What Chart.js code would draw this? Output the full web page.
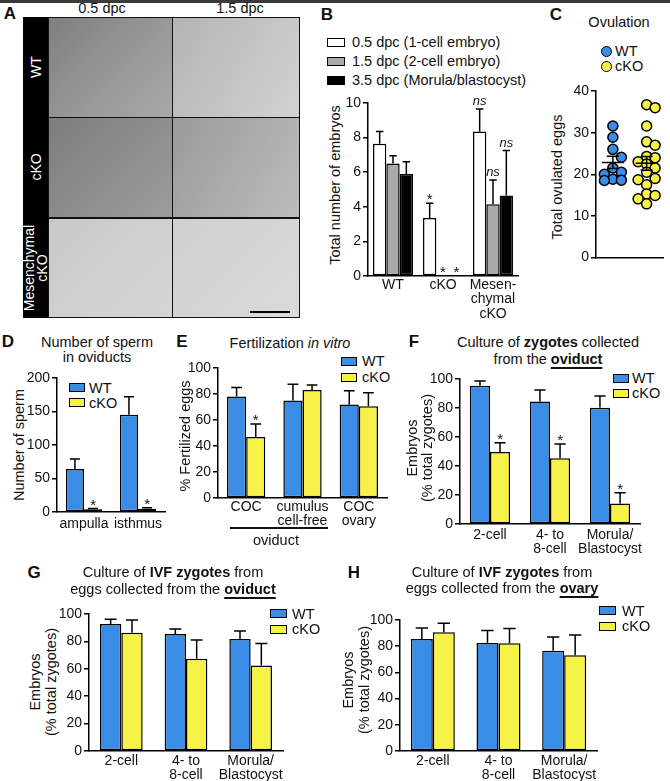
<!DOCTYPE html>
<html><head><meta charset="utf-8">
<script src="https://cdn.jsdelivr.net/npm/chart.js@4.4.1/dist/chart.umd.min.js"></script>
<style>
html,body{margin:0;padding:0;background:#fff;}
body{width:670px;height:781px;position:relative;overflow:hidden;font-family:"Liberation Sans",Arial,Helvetica,sans-serif;color:#111;}
.t{position:absolute;white-space:nowrap;font-size:14.5px;line-height:16px;transform:translate(-50%,-50%);text-align:center;}
.tl{position:absolute;white-space:nowrap;font-size:14.5px;line-height:16px;transform:translate(0,-50%);}
.pl{position:absolute;font-weight:bold;font-size:17px;line-height:18px;transform:translate(-50%,-50%);}
.yt{position:absolute;white-space:nowrap;font-size:14.5px;line-height:16px;transform:translate(-50%,-50%) rotate(-90deg);text-align:center;}
.sw{position:absolute;box-sizing:border-box;border:1.5px solid #000;}
.img{position:absolute;box-sizing:border-box;}
u{text-decoration:underline;text-underline-offset:3px;text-decoration-thickness:1.5px;}
</style></head><body>
<script>
// ---------------- DATA ----------------
// Panel B
const B_categories = ['WT', 'cKO', ['Mesen-', 'chymal', 'cKO']];
const B_series = ['0.5 dpc (1-cell embryo)', '1.5 dpc (2-cell embryo)', '3.5 dpc (Morula/blastocyst)'];
const B_d05 = [7.65, 3.35, 8.35];
const B_d05_err = [0.7, 0.85, 1.3];
const B_d05_sig = ['', '*', 'ns'];
const B_d15 = [6.5, 0, 4.15];
const B_d15_err = [0.45, 0, 1.4];
const B_d15_sig = ['', '*', 'ns'];
const B_d35 = [5.9, 0, 4.65];
const B_d35_err = [0.7, 0, 2.6];
const B_d35_sig = ['', '*', 'ns'];
const B_yTicks = [0, 2, 4, 6, 8, 10];

// Panel C
const C_groups = ['WT', 'cKO'];
const C_wt = [31.6, 28.9, 26, 24.1, 21.5, 20.5, 20, 18.8, 18.6, 18.5];
const C_cko = [36.7, 36, 31.6, 27.8, 27, 24.3, 24, 23, 22.5, 21.5, 20.5, 19, 18.7, 17.5, 15.3, 14.9, 14.1, 12.9];
const C_yTicks = [0, 10, 20, 30, 40];

// Panel D
const D_categories = ['ampulla', 'isthmus'];
const D_wt = [64, 145];
const D_wt_err = [15, 27];
const D_cko = [4, 5];
const D_cko_err = [1.2, 1.5];
const D_cko_sig = ['*', '*'];
const D_yTicks = [0, 50, 100, 150, 200];

// Panel E
const E_categories = ['COC', ['cumulus', 'cell-free'], ['COC', 'ovary']];
const E_wt = [78, 75, 72];
const E_wt_err = [7, 12.5, 10.5];
const E_cko = [47, 83, 70.5];
const E_cko_err = [10, 4, 10.5];
const E_cko_sig = ['*', '', ''];

// Panel F
const F_categories = ['2-cell', ['4- to', '8-cell'], ['Morula/', 'Blastocyst']];
const F_wt = [95.4, 84.4, 80.2];
const F_wt_err = [3.2, 8, 8.1];
const F_cko = [49.7, 45.3, 14.2];
const F_cko_err = [6.4, 9.9, 7.4];
const F_cko_sig = ['*', '*', '*'];

// Panel G
const G_categories = ['2-cell', ['4- to', '8-cell'], ['Morula/', 'Blastocyst']];
const G_wt = [92.7, 85.4, 81.7];
const G_wt_err = [3.4, 3.6, 5.9];
const G_cko = [86.3, 67.3, 62.4];
const G_cko_err = [9.3, 13.7, 16.1];

// Panel H
const H_categories = ['2-cell', ['4- to', '8-cell'], ['Morula/', 'Blastocyst']];
const H_wt = [85.5, 82.4, 76.6];
const H_wt_err = [8.4, 9.5, 10.4];
const H_cko = [90.6, 82.2, 73];
const H_cko_err = [6.9, 11.4, 15.5];

const PCT_TICKS = [0, 20, 40, 60, 80, 100];
const SERIES = ['WT', 'cKO'];

// ---------------- STYLE ----------------
const FONT = '"Liberation Sans", Arial, Helvetica, sans-serif';
const BLUE = '#3a8de6', YELLOW = '#f6f248';
Chart.defaults.font.family = FONT;
Chart.defaults.font.size = 14;
Chart.defaults.color = '#111';

function el(cls, html, x, y, extra) {
  const d = document.createElement('div');
  d.className = cls; d.innerHTML = html;
  d.style.left = x + 'px'; d.style.top = y + 'px';
  if (extra) d.style.cssText += extra;
  document.body.appendChild(d);
  return d;
}

// error bars + significance labels
const errPlugin = {
  id: 'errbars',
  afterDatasetsDraw(chart) {
    const ctx = chart.ctx, ys = chart.scales.y;
    chart.data.datasets.forEach((ds, di) => {
      const meta = chart.getDatasetMeta(di);
      meta.data.forEach((bar, i) => {
        const v = ds.data[i], e = (ds.errors || [])[i] || 0;
        const top = ys.getPixelForValue(v + e);
        ctx.save();
        ctx.strokeStyle = '#000'; ctx.lineWidth = 1.5;
        if (e > 0) {
          const cw = bar.width * 0.28;
          ctx.beginPath();
          ctx.moveTo(bar.x, bar.y); ctx.lineTo(bar.x, top);
          ctx.moveTo(bar.x - cw, top); ctx.lineTo(bar.x + cw, top);
          ctx.stroke();
        }
        const s = (ds.sig || [])[i];
        if (s) {
          ctx.fillStyle = '#111'; ctx.textAlign = 'center'; ctx.textBaseline = 'alphabetic';
          if (s === 'ns') { ctx.font = 'italic 13px ' + FONT; ctx.fillText(s, bar.x, top - 4); }
          else { ctx.font = '15px ' + FONT; ctx.fillText(s, bar.x, top + 1); }
        }
        ctx.restore();
      });
    });
  }
};

function yScale(max, ticks, padL) {
  return {
    min: 0, max: max,
    afterBuildTicks: s => { s.ticks = ticks.map(v => ({ value: v })); },
    ticks: { color: '#111', font: { size: 14 }, padding: 2 },
    grid: { display: true, drawOnChartArea: false, drawTicks: true, tickLength: 5, color: '#000', lineWidth: 1.5 },
    border: { display: true, color: '#000', width: 1.5 },
    afterFit: s => { s.width = padL; }
  };
}

function makeBar(area, labels, datasets, yMax, yTicks, catPct, padB, xPad) {
  const padL = 48, padT = 14, padR = 30;
  const W = area.r - area.l + padL + padR, H = area.b - area.t + padT + padB;
  const cv = document.createElement('canvas');
  cv.style.cssText = `position:absolute;left:${area.l - padL}px;top:${area.t - padT}px;width:${W}px;height:${H}px`;
  cv.width = W; cv.height = H;
  document.body.appendChild(cv);
  datasets.forEach(d => {
    d.borderColor = '#000'; d.borderWidth = 1.5; d.borderSkipped = false;
    d.categoryPercentage = catPct; d.barPercentage = 1;
  });
  return new Chart(cv, {
    type: 'bar',
    data: { labels, datasets },
    options: {
      responsive: false, animation: false,
      layout: { padding: { top: padT, right: padR, left: 0, bottom: 0 } },
      plugins: { legend: { display: false }, tooltip: { enabled: false } },
      scales: {
        x: {
          grid: { display: false, drawTicks: false },
          border: { display: true, color: '#000', width: 1.5 },
          ticks: { color: '#111', font: { size: 14, lineHeight: 1.02 }, padding: xPad, maxRotation: 0, autoSkip: false },
          afterFit: s => { s.height = padB; }
        },
        y: yScale(yMax, yTicks, padL)
      }
    },
    plugins: [errPlugin]
  });
}

function legendBoxes(x, ys, colors, names, w, h, tx) {
  names.forEach((n, i) => {
    el('sw', '', x, ys[i] - h / 2, `width:${w}px;height:${h}px;background:${colors[i]};`);
    el('tl', n, tx, ys[i]);
  });
}

// ---------------- PANEL A (micrograph placeholders) ----------------
el('img', '', 0, 0, 'width:670px;height:3px;background:#3a3a3a;');
el('pl', 'A', 10, 14);
el('t', '0.5 dpc', 102, 8);
el('t', '1.5 dpc', 240, 8);
el('img', '', 23, 17, 'width:25px;height:301px;background:#000;');
const aRows = [['WT', 17], ['cKO', 117], ['Mesenchymal<br>cKO', 218]];
const aFill = [
  ['linear-gradient(135deg,#7f7f7f,#9a9a9a 60%,#a8a8a8)', 'linear-gradient(120deg,#b4b4b4,#c9c9c9 70%,#d2d2d2)'],
  ['linear-gradient(135deg,#7d7d7d,#909090 60%,#9c9c9c)', 'linear-gradient(120deg,#9a9a9a,#b2b2b2 70%,#bcbcbc)'],
  ['linear-gradient(135deg,#c9c9c9,#d6d6d6)', 'linear-gradient(135deg,#d0d0d0,#dadada)']
];
aRows.forEach((r, i) => {
  const h = i === 2 ? 100 : 101;
  el('img', '', 48, r[1], `width:125px;height:${h}px;background:${aFill[i][0]};border:1.5px solid #111;`);
  el('img', '', 172, r[1], `width:128px;height:${h}px;background:${aFill[i][1]};border:1.5px solid #111;`);
  el('yt', r[0], 35.5, r[1] + 50, 'color:#fff;font-size:14px;line-height:13px;');
});
el('img', '', 250, 311, 'width:40px;height:2px;background:#000;');

// ---------------- PANEL B ----------------
el('pl', 'B', 327, 15);
legendBoxes(327, [42, 61, 80], ['#fff', '#a9a9a9', '#000'], B_series, 18, 9, 352);
el('yt', 'Total number of embryos', 335, 185);
makeBar({ l: 368, t: 103, r: 518, b: 276 }, B_categories, [
  { data: B_d05, errors: B_d05_err, sig: B_d05_sig, backgroundColor: '#ffffff' },
  { data: B_d15, errors: B_d15_err, sig: B_d15_sig, backgroundColor: '#a9a9a9' },
  { data: B_d35, errors: B_d35_err, sig: B_d35_sig, backgroundColor: '#000000' }
], 10, B_yTicks, 0.8, 56, 2);

// ---------------- PANEL C ----------------
el('pl', 'C', 556, 15);
el('t', 'Ovulation', 619, 22);
[[BLUE, 51], [YELLOW, 65.5]].forEach((c, i) => {
  el('img', '', 601, c[1] - 5, `width:11px;height:11px;border-radius:50%;background:${c[0]};border:1.5px solid #000;`);
  el('tl', C_groups[i], 615, c[1]);
});
el('yt', 'Total ovulated eggs', 557, 177);
(function () {
  const area = { l: 596, t: 91, r: 668, b: 262 };
  const padL = 40, padT = 14, padR = 2, padB = 6;
  const W = area.r - area.l + padL + padR, H = area.b - area.t + padT + padB;
  const cv = document.createElement('canvas');
  cv.style.cssText = `position:absolute;left:${area.l - padL}px;top:${area.t - padT}px;width:${W}px;height:${H}px`;
  cv.width = W; cv.height = H;
  document.body.appendChild(cv);
  const groups = [C_wt, C_cko];
  const meanPlugin = {
    id: 'meansem',
    afterDatasetsDraw(chart) {
      const ctx = chart.ctx, xs = chart.scales.x, ys = chart.scales.y;
      groups.forEach((vals, gi) => {
        const n = vals.length, m = vals.reduce((a, b) => a + b, 0) / n;
        const sd = Math.sqrt(vals.reduce((a, b) => a + (b - m) * (b - m), 0) / (n - 1));
        const sem = sd / Math.sqrt(n);
        const cx = xs.getPixelForValue(gi + 1);
        const ym = ys.getPixelForValue(m), y1 = ys.getPixelForValue(m + sem), y2 = ys.getPixelForValue(m - sem);
        ctx.save(); ctx.strokeStyle = '#000'; ctx.lineWidth = 1.5;
        ctx.beginPath();
        ctx.moveTo(cx - 11, ym); ctx.lineTo(cx + 11, ym);
        ctx.moveTo(cx, y1); ctx.lineTo(cx, y2);
        ctx.moveTo(cx - 6, y1); ctx.lineTo(cx + 6, y1);
        ctx.moveTo(cx - 6, y2); ctx.lineTo(cx + 6, y2);
        ctx.stroke(); ctx.restore();
      });
    }
  };
  const chart = new Chart(cv, {
    type: 'scatter',
    data: {
      datasets: groups.map((vals, gi) => ({
        data: vals.map(v => ({ x: gi + 1, y: v })),
        backgroundColor: gi === 0 ? BLUE : YELLOW,
        borderColor: '#000', borderWidth: 1.5, pointRadius: 5, clip: false
      }))
    },
    options: {
      responsive: false, animation: false,
      layout: { padding: { top: padT, right: padR, left: 0, bottom: 0 } },
      plugins: { legend: { display: false }, tooltip: { enabled: false } },
      scales: {
        x: {
          type: 'linear', min: 0.5, max: 2.5,
          grid: { display: false, drawTicks: false },
          ticks: { display: false },
          border: { display: true, color: '#000', width: 1.5 },
          afterFit: s => { s.height = padB; }
        },
        y: yScale(40, C_yTicks, padL)
      }
    },
    plugins: [meanPlugin]
  });
  // beeswarm layout computed from the data through the chart's scales
  const xs = chart.scales.x, ys = chart.scales.y, thr = 8;
  const cands = [0, 8.5, -8.5, 4.5, -4.5];
  chart.data.datasets.forEach((ds, gi) => {
    const cx = xs.getPixelForValue(gi + 1);
    const order = ds.data.map((p, i) => i).sort((a, b) => ds.data[b].y - ds.data[a].y);
    const placed = [];
    order.forEach(i => {
      const py = ys.getPixelForValue(ds.data[i].y);
      let px = null, bestD = -1, bestX = cx;
      for (const off of cands) {
        const cand = cx + off;
        const d = placed.reduce((mn, p) => Math.min(mn, Math.hypot(p[0] - cand, p[1] - py)), Infinity);
        if (d >= thr) { px = cand; break; }
        if (d > bestD) { bestD = d; bestX = cand; }
      }
      if (px === null) px = bestX;
      placed.push([px, py]);
      ds.data[i] = { x: xs.getValueForPixel(px), y: ds.data[i].y };
    });
  });
  chart.update('none');
})();

// ---------------- PANEL D ----------------
el('pl', 'D', 8, 342);
el('t', 'Number of sperm<br>in oviducts', 97, 350, 'line-height:15px;');
legendBoxes(69, [387.5, 402.5], [BLUE, YELLOW], SERIES, 16, 9, 89);
el('yt', 'Number of sperm', 19, 445);
makeBar({ l: 57, t: 378, r: 165, b: 512 }, D_categories, [
  { data: D_wt, errors: D_wt_err, backgroundColor: BLUE },
  { data: D_cko, errors: D_cko_err, sig: D_cko_sig, backgroundColor: YELLOW }
], 200, D_yTicks, 0.67, 40, 5);

// ---------------- PANEL E ----------------
el('pl', 'E', 182, 342);
el('t', 'Fertilization <i>in vitro</i>', 290, 343);
legendBoxes(341, [361, 377], [BLUE, YELLOW], SERIES, 16, 9, 362);
el('yt', '% Fertilized eggs', 185, 436);
makeBar({ l: 218, t: 368, r: 387, b: 498 }, E_categories, [
  { data: E_wt, errors: E_wt_err, backgroundColor: BLUE },
  { data: E_cko, errors: E_cko_err, sig: E_cko_sig, backgroundColor: YELLOW }
], 100, PCT_TICKS, 0.68, 40, 2);
el('img', '', 230, 527, 'width:98px;height:1.5px;background:#111;');
el('t', 'oviduct', 276, 540);

// ---------------- PANEL F ----------------
el('pl', 'F', 414, 342);
el('t', 'Culture of <b>zygotes</b> collected<br>from the <b><u>oviduct</u></b>', 548, 351, 'line-height:17px;');
legendBoxes(613, [378, 393], [BLUE, YELLOW], SERIES, 16, 9, 632);
el('yt', 'Embryos<br>(% total zygotes)', 420, 448, 'line-height:15px;');
makeBar({ l: 460, t: 379, r: 640, b: 524 }, F_categories, [
  { data: F_wt, errors: F_wt_err, backgroundColor: BLUE },
  { data: F_cko, errors: F_cko_err, sig: F_cko_sig, backgroundColor: YELLOW }
], 100, PCT_TICKS, 0.67, 40, 4);

// ---------------- PANEL G ----------------
el('pl', 'G', 34, 573);
el('t', 'Culture of <b>IVF zygotes</b> from<br>eggs collected from the <b><u>oviduct</u></b>', 173, 581, 'line-height:17px;');
legendBoxes(270, [613.5, 629], [BLUE, YELLOW], SERIES, 17, 9, 292);
el('yt', 'Embryos<br>(% total zygotes)', 42.5, 682, 'line-height:16px;');
makeBar({ l: 89, t: 614, r: 283, b: 751 }, G_categories, [
  { data: G_wt, errors: G_wt_err, backgroundColor: BLUE },
  { data: G_cko, errors: G_cko_err, backgroundColor: YELLOW }
], 100, PCT_TICKS, 0.66, 30, 3);

// ---------------- PANEL H ----------------
el('pl', 'H', 354, 573);
el('t', 'Culture of <b>IVF zygotes</b> from<br>eggs collected from the <b><u>ovary</u></b>', 502, 580, 'line-height:16px;');
legendBoxes(599, [610.5, 626], [BLUE, YELLOW], SERIES, 17, 9, 622);
el('yt', 'Embryos<br>(% total zygotes)', 356, 680, 'line-height:16px;');
makeBar({ l: 400, t: 620, r: 597, b: 751 }, H_categories, [
  { data: H_wt, errors: H_wt_err, backgroundColor: BLUE },
  { data: H_cko, errors: H_cko_err, backgroundColor: YELLOW }
], 100, PCT_TICKS, 0.67, 30, 3);
</script>
</body></html>
